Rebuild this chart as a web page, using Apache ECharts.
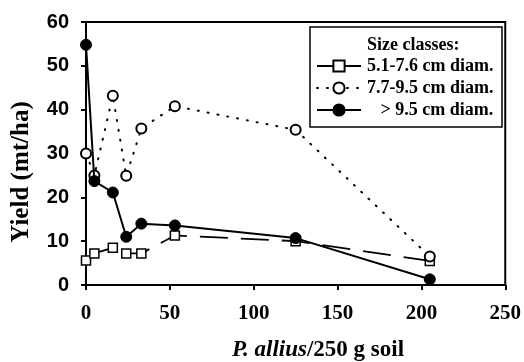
<!DOCTYPE html>
<html><head><meta charset="utf-8">
<script src="https://cdn.jsdelivr.net/npm/echarts@6/dist/echarts.min.js"></script>
<style>html,body{margin:0;padding:0;background:#fff}#c{width:524px;height:362px}</style>
</head><body><div id="c"></div>
<script>
var xValues = [0, 5, 16, 24, 33, 53, 125, 205];
var small = [5.6, 7.2, 8.5, 7.2, 7.2, 11.3, 10.0, 5.5];
var medium = [30.0, 25.0, 43.2, 24.9, 35.7, 40.8, 35.4, 6.5];
var large = [54.8, 23.7, 21.1, 11.0, 14.0, 13.6, 10.7, 1.3];
var seriesNames = ['5.1-7.6 cm diam.', '7.7-9.5 cm diam.', '> 9.5 cm diam.'];
var xTicks = [0, 50, 100, 150, 200, 250];
var yTicks = [0, 10, 20, 30, 40, 50, 60];

function pairs(v){ return xValues.map(function(x,i){ return [x, v[i]]; }); }
var serif = 'Liberation Serif';
var chart = echarts.init(document.getElementById('c'), null, {renderer:'canvas'});
chart.setOption({
  animation:false,
  backgroundColor:'#fff',
  grid:{left:86,right:17,top:22,bottom:77,show:true,borderColor:'#000',borderWidth:2,backgroundColor:'transparent'},
  xAxis:{type:'value',min:xTicks[0],max:xTicks[xTicks.length-1],interval:xTicks[1]-xTicks[0],
    axisLine:{lineStyle:{color:'#000',width:2}},
    axisTick:{show:true,length:5,lineStyle:{color:'#000',width:2}},
    splitLine:{show:false},
    axisLabel:{color:'#000',fontFamily:serif,fontWeight:'bold',fontSize:21,margin:18}},
  yAxis:{type:'value',min:yTicks[0],max:yTicks[yTicks.length-1],interval:yTicks[1]-yTicks[0],
    axisLine:{show:true,lineStyle:{color:'#000',width:2}},
    axisTick:{show:true,length:5,lineStyle:{color:'#000',width:2}},
    splitLine:{show:false},
    axisLabel:{color:'#000',fontFamily:'Liberation Sans',fontWeight:'bold',fontSize:20,margin:17}},
  legend:{orient:'vertical',left:316,top:57,padding:0,itemWidth:44,itemHeight:14,itemGap:4,
    data:[
      {name:seriesNames[0],lineStyle:{type:'solid',width:2}},
      {name:seriesNames[1]},
      {name:seriesNames[2]}
    ],
    formatter:function(n){ return n==='> 9.5 cm diam.' ? '   '+n : n; },
    textStyle:{color:'#000',fontFamily:serif,fontWeight:'bold',fontSize:18,padding:[0,0,0,1]}},
  graphic:[
    {type:'rect',shape:{x:310,y:27,width:192,height:100},style:{fill:'#fff',stroke:'#000',lineWidth:1.5},z:0},
    {type:'text',x:367,y:45,style:{text:'Size classes:',fill:'#000',font:'bold 18px "Liberation Serif"',textVerticalAlign:'middle'},z:1},
    {type:'text',x:22,y:172,rotation:Math.PI/2,style:{text:'Yield (mt/ha)',fill:'#000',font:'bold 25px "Liberation Serif"',textAlign:'center',textVerticalAlign:'middle'}},
    {type:'text',x:318,y:350,style:{text:'{i|P. allius}{n|/250 g soil}',textAlign:'center',textVerticalAlign:'middle',
      rich:{i:{fontFamily:serif,fontWeight:'bold',fontStyle:'italic',fontSize:23,fill:'#000'},
            n:{fontFamily:serif,fontWeight:'bold',fontSize:23,fill:'#000'}}}}
  ],
  series:[
    {name:seriesNames[0],type:'line',data:pairs(small),symbol:'rect',symbolSize:9,z:3,
      lineStyle:{color:'#000',width:1.8,type:[28,13]},itemStyle:{color:'#fff',borderColor:'#000',borderWidth:1.5}},
    {name:seriesNames[1],type:'line',data:pairs(medium),symbol:'circle',symbolSize:10,z:3,
      lineStyle:{color:'#000',width:2,type:[1,9],cap:'round'},itemStyle:{color:'#fff',borderColor:'#000',borderWidth:2}},
    {name:seriesNames[2],type:'line',data:pairs(large),symbol:'circle',symbolSize:11,z:4,
      lineStyle:{color:'#000',width:2},itemStyle:{color:'#000',borderColor:'#000',borderWidth:1}}
  ]
});
</script></body></html>
